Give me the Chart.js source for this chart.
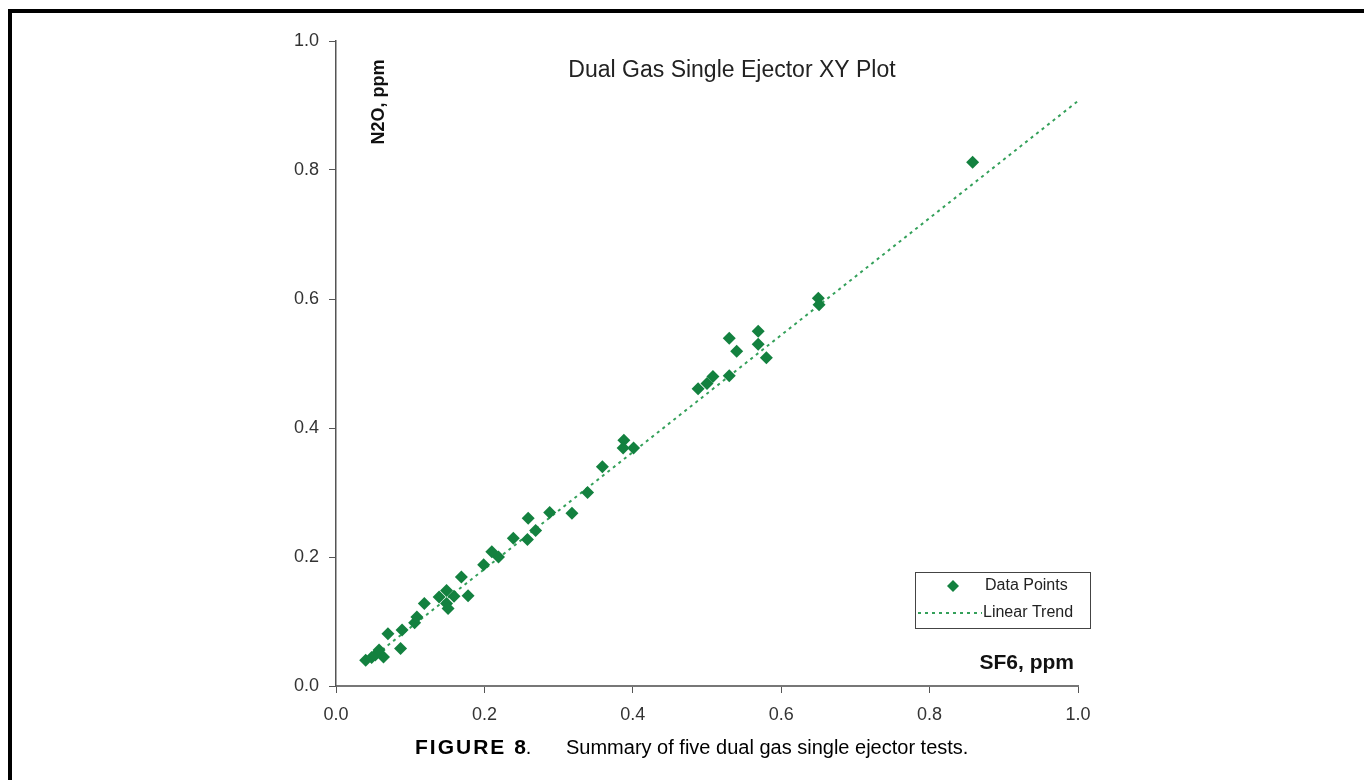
<!DOCTYPE html>
<html>
<head>
<meta charset="utf-8">
<script src="https://cdn.jsdelivr.net/npm/chart.js@4"></script>
<style>
  html, body { margin: 0; padding: 0; background: #fff; }
  #wrap { width: 1364px; height: 780px; position: relative; }
</style>
</head>
<body>
<div id="wrap"><canvas id="xyChart"></canvas></div>
<script>
// SF6 vs N2O readings (ppm)
const sf6 = [0.04, 0.048, 0.053, 0.058, 0.064, 0.07, 0.087, 0.089, 0.106, 0.109, 0.119,
  0.139, 0.149, 0.149, 0.151, 0.159, 0.169, 0.178,
  0.199, 0.21, 0.219, 0.239, 0.259, 0.258, 0.269, 0.288, 0.318, 0.339, 0.359, 0.388, 0.387, 0.401,
  0.488, 0.5, 0.508, 0.53, 0.53, 0.54, 0.569, 0.569, 0.58, 0.65, 0.651, 0.858];
const n2o = [0.04, 0.044, 0.048, 0.056, 0.045, 0.081, 0.058, 0.087, 0.098, 0.107, 0.128,
  0.138, 0.148, 0.128, 0.12, 0.139, 0.169, 0.14,
  0.188, 0.208, 0.2, 0.229, 0.26, 0.227, 0.241, 0.269, 0.268, 0.3, 0.34, 0.381, 0.369, 0.369,
  0.461, 0.469, 0.48, 0.481, 0.539, 0.519, 0.55, 0.53, 0.509, 0.601, 0.591, 0.812];
// linear trend end points
const trendX = [0.04, 1.0];
const trendY = [0.036, 0.907];
const tickVals = [0, 0.2, 0.4, 0.6, 0.8, 1.0];

const green = '#13813f';
const trendGreen = '#34a05a';
const textFont = '"Liberation Sans", Arial, sans-serif';

const points = sf6.map((x, i) => ({ x: x, y: n2o[i] }));
const trend = trendX.map((x, i) => ({ x: x, y: trendY[i] }));

// title, axis names, legend, caption and frame
const extras = {
  id: 'extras',
  afterDraw(chart) {
    const c = chart.ctx;
    c.save();
    // frame
    c.fillStyle = '#000';
    c.fillRect(8, 9, 1356, 4);
    c.fillRect(8, 9, 4, 771);

    c.fillStyle = '#222';
    c.font = '23px ' + textFont;
    c.textAlign = 'center';
    c.textBaseline = 'middle';
    c.fillText('Dual Gas Single Ejector XY Plot', 732, 71);

    // y axis name
    c.save();
    c.translate(379, 102);
    c.rotate(-Math.PI / 2);
    c.font = 'bold 18px ' + textFont;
    c.fillStyle = '#111';
    c.fillText('N2O, ppm', 0, 0);
    c.restore();

    // x axis name
    c.font = 'bold 21px ' + textFont;
    c.fillStyle = '#111';
    c.textAlign = 'right';
    c.fillText('SF6, ppm', 1074, 663);

    // legend
    c.strokeStyle = '#444';
    c.lineWidth = 1;
    c.strokeRect(915.5, 572.5, 175, 56);
    c.fillStyle = green;
    c.beginPath();
    c.moveTo(953, 580); c.lineTo(959, 586); c.lineTo(953, 592); c.lineTo(947, 586);
    c.closePath();
    c.fill();
    c.strokeStyle = trendGreen;
    c.lineWidth = 2;
    c.setLineDash([3, 4]);
    c.beginPath();
    c.moveTo(918, 613); c.lineTo(982, 613);
    c.stroke();
    c.setLineDash([]);
    c.fillStyle = '#222';
    c.font = '16px ' + textFont;
    c.textAlign = 'left';
    c.fillText('Data Points', 985, 586);
    c.fillText('Linear Trend', 983, 613);

    // caption
    c.fillStyle = '#000';
    c.font = 'bold 21px ' + textFont;
    c.letterSpacing = '2px';
    c.fillText('FIGURE 8', 415, 748);
    const wA = c.measureText('FIGURE 8').width;
    c.letterSpacing = '0px';
    c.font = '20px ' + textFont;
    c.fillText('.', 413 + wA, 748);
    c.fillText('Summary of five dual gas single ejector tests.', 566, 748);
    c.restore();
  }
};

new Chart(document.getElementById('xyChart'), {
  type: 'scatter',
  data: {
    datasets: [
      {
        label: 'Data Points',
        data: points,
        pointStyle: 'rectRot',
        pointRadius: 6.5,
        backgroundColor: green,
        borderColor: green,
        borderWidth: 0,
        order: 1
      },
      {
        label: 'Linear Trend',
        type: 'line',
        data: trend,
        borderColor: trendGreen,
        borderWidth: 2,
        borderDash: [3, 4],
        pointRadius: 0,
        fill: false,
        order: 2
      }
    ]
  },
  options: {
    responsive: true,
    maintainAspectRatio: false,
    animation: false,
    layout: { padding: { left: 256, right: 286, top: 41, bottom: 34 } },
    plugins: {
      legend: { display: false },
      tooltip: { enabled: false }
    },
    scales: {
      x: {
        type: 'linear',
        min: 0, max: 1,
        afterBuildTicks: s => { s.ticks = tickVals.map(v => ({ value: v })); },
        afterFit: s => { s.height = 60; },
        border: { display: true, color: '#777', width: 2 },
        grid: { display: true, drawOnChartArea: false, drawTicks: true, tickLength: 7, color: '#555' },
        ticks: {
          color: '#333',
          padding: 11,
          font: { family: textFont, size: 18 },
          callback: v => Number(v).toFixed(1)
        }
      },
      y: {
        type: 'linear',
        min: 0, max: 1,
        afterBuildTicks: s => { s.ticks = tickVals.map(v => ({ value: v })); },
        afterFit: s => { s.width = 80; },
        border: { display: true, color: '#555', width: 1.5 },
        grid: { display: true, drawOnChartArea: false, drawTicks: true, tickLength: 7, color: '#555' },
        ticks: {
          color: '#333',
          padding: 10,
          font: { family: textFont, size: 18 },
          callback: v => Number(v).toFixed(1)
        }
      }
    }
  },
  plugins: [extras]
});
</script>
</body>
</html>
